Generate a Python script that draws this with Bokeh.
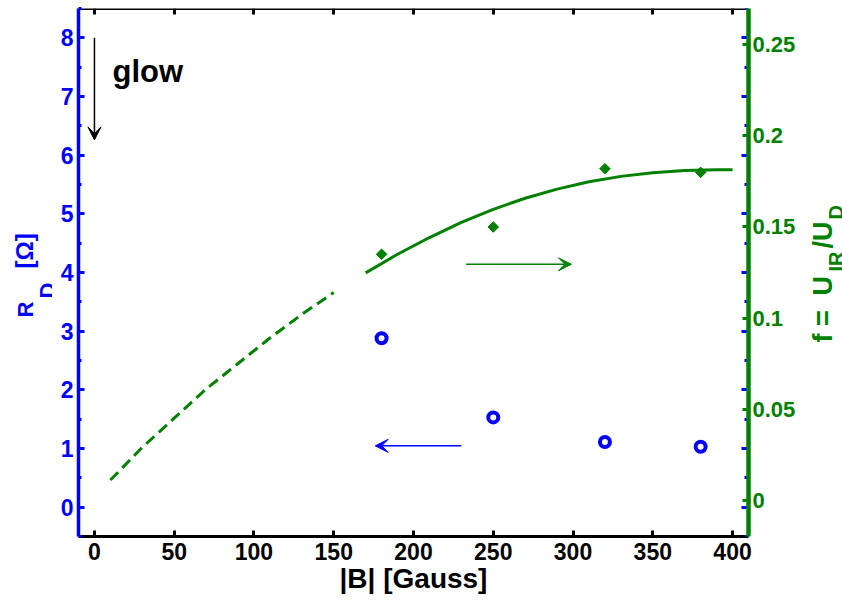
from math import pi

from bokeh.plotting import figure
from bokeh.layouts import row
from bokeh.models import (Range1d, LinearAxis, FixedTicker, CustomJSTickFormatter,
                          Arrow, VeeHead, Label)
from bokeh.embed import file_html
from bokeh.resources import INLINE

# ---------------- data ----------------
B_field = [180, 250, 320, 380]                 # |B| [Gauss]
R_D = [2.88, 1.53, 1.11, 1.03]                 # discharge resistance [Ohm]
f_ratio = [0.135, 0.150, 0.182, 0.180]         # f = U_IR / U_D

fit_B = [170, 190, 210, 230, 250, 270, 290, 310, 330, 350, 370, 390, 400]
fit_f = [0.1248, 0.1350, 0.1442, 0.1525, 0.1597, 0.1658, 0.1708, 0.1748,
         0.1778, 0.1798, 0.1810, 0.1815, 0.1814]

ext_B = [10, 30, 50, 70, 90, 110, 130, 150]
ext_f = [0.011, 0.029, 0.045, 0.061, 0.075, 0.089, 0.102, 0.114]

x_ticks = [0, 50, 100, 150, 200, 250, 300, 350, 400]
x_tick_labels = ["0", "50", "100", "150", "200", "250", "300", "350", "400"]
r_ticks = [0, 1, 2, 3, 4, 5, 6, 7, 8]
r_tick_labels = ["0", "1", "2", "3", "4", "5", "6", "7", "8"]
r_minor = [-0.5, 0.5, 1.5, 2.5, 3.5, 4.5, 5.5, 6.5, 7.5, 8.5]
f_ticks = [0, 0.05, 0.1, 0.15, 0.2, 0.25]
f_tick_labels = ["0", "0.05", "0.1", "0.15", "0.2", "0.25"]

# annotation anchors (data units)
glow_arrow = dict(x=0, y_start=8.0, y_end=6.26)
glow_text = dict(x=11.3, y=7.42)
green_arrow = dict(x_start=233, x_end=299, y=0.1295)
blue_arrow = dict(x_start=230, x_end=176, y=1.045)

BLUE = "#0000ff"
GREEN = "#008000"
FONT = "Liberation Sans"

X_MIN, X_MAX = -10, 410
R_MIN, R_MAX = -0.5, 8.5
F_MIN, F_MAX = -0.02, 0.27

H = 608
TOP, BOTTOM = 8, 72      # borders above / below the plotting frame
FH = H - TOP - BOTTOM
WL, WR = 52, 42          # side strips holding the rotated axis titles
WM = 842 - WL - WR

p = figure(width=WM, height=H, frame_width=670, frame_height=FH,
           x_range=Range1d(X_MIN, X_MAX), y_range=Range1d(R_MIN, R_MAX),
           output_backend="svg", toolbar_location=None,
           min_border_left=78 - WL, min_border_right=WM - (78 - WL) - 670,
           min_border_top=TOP, min_border_bottom=BOTTOM)
p.extra_y_ranges = {"f": Range1d(F_MIN, F_MAX)}
p.outline_line_color = None
p.xgrid.visible = False
p.ygrid.visible = False
p.background_fill_color = "white"
p.border_fill_color = "white"

empty_fmt = CustomJSTickFormatter(code="return ''")

# bottom axis
xa = p.xaxis[0]
xa.ticker = FixedTicker(ticks=x_ticks, minor_ticks=[])
xa.major_label_overrides = dict(zip(x_ticks, x_tick_labels))
xa.major_tick_in = 6
xa.major_tick_out = 0
xa.minor_tick_line_color = None
xa.axis_line_width = 3
xa.axis_line_color = "black"
xa.major_tick_line_color = "black"
xa.major_tick_line_width = 3
xa.major_label_text_font = FONT
xa.major_label_text_font_style = "bold"
xa.major_label_text_font_size = "23px"
xa.major_label_text_color = "black"
xa.major_label_standoff = 6
xa.axis_label = "|B| [Gauss]"
xa.axis_label_text_font = FONT
xa.axis_label_text_font_style = "bold"
xa.axis_label_text_font_size = "28px"
xa.axis_label_text_color = "black"
xa.axis_label_standoff = 0

# left axis (R_D)
ya = p.yaxis[0]
ya.ticker = FixedTicker(ticks=r_ticks, minor_ticks=r_minor)
ya.major_label_overrides = dict(zip(r_ticks, r_tick_labels))
ya.major_tick_in = 6
ya.major_tick_out = 0
ya.minor_tick_in = 3
ya.minor_tick_out = 0
ya.axis_line_width = 3.5
ya.axis_line_color = BLUE
ya.major_tick_line_color = BLUE
ya.major_tick_line_width = 3
ya.minor_tick_line_color = BLUE
ya.minor_tick_line_width = 3
ya.major_label_text_font = FONT
ya.major_label_text_font_style = "bold"
ya.major_label_text_font_size = "23px"
ya.major_label_text_color = BLUE
ya.major_label_standoff = 5

# top mirror axis
ta = LinearAxis(fixed_location=R_MAX, ticker=FixedTicker(ticks=x_ticks, minor_ticks=[]),
                formatter=empty_fmt, major_tick_in=6, major_tick_out=0,
                minor_tick_line_color=None, axis_line_width=3, axis_line_color="black",
                major_tick_line_color="black", major_tick_line_width=3)
p.add_layout(ta, "above")

# right mirror of the R_D ticks
mr = LinearAxis(fixed_location=X_MAX, ticker=FixedTicker(ticks=r_ticks, minor_ticks=r_minor),
                formatter=empty_fmt, major_tick_in=7, major_tick_out=0,
                minor_tick_in=4, minor_tick_out=0, axis_line_color=None,
                major_tick_line_color=BLUE, major_tick_line_width=3,
                minor_tick_line_color=BLUE, minor_tick_line_width=3)
p.add_layout(mr, "right")

# right axis (f)
ra = LinearAxis(y_range_name="f", ticker=FixedTicker(ticks=f_ticks, minor_ticks=[]))
ra.major_label_overrides = dict(zip(f_ticks, f_tick_labels))
ra.major_tick_in = 6
ra.major_tick_out = 0
ra.minor_tick_line_color = None
ra.axis_line_width = 4.5
ra.axis_line_color = GREEN
ra.major_tick_line_color = GREEN
ra.major_tick_line_width = 3
ra.major_label_text_font = FONT
ra.major_label_text_font_style = "bold"
ra.major_label_text_font_size = "22px"
ra.major_label_text_color = GREEN
ra.major_label_standoff = 4
p.add_layout(ra, "right")

# ---------------- glyphs ----------------
p.line(ext_B, ext_f, y_range_name="f", line_color=GREEN, line_width=3, line_dash="11 6")
p.line(fit_B, fit_f, y_range_name="f", line_color=GREEN, line_width=3)
p.scatter(B_field, f_ratio, y_range_name="f", marker="square", angle=pi / 4, size=7.5,
          fill_color=GREEN, line_color=GREEN, line_width=1)
p.scatter(B_field, R_D, marker="circle", size=10, fill_color=None,
          line_color=BLUE, line_width=4)

# ---------------- arrows ----------------
p.add_layout(Arrow(end=VeeHead(size=13, fill_color="black", line_color="black", line_width=1),
                   x_start=glow_arrow["x"], y_start=glow_arrow["y_start"],
                   x_end=glow_arrow["x"], y_end=glow_arrow["y_end"],
                   line_color="black", line_width=1.5))
p.add_layout(Arrow(end=VeeHead(size=13, fill_color=GREEN, line_color=GREEN, line_width=1),
                   x_start=green_arrow["x_start"], y_start=green_arrow["y"],
                   x_end=green_arrow["x_end"], y_end=green_arrow["y"],
                   y_range_name="f", line_color=GREEN, line_width=1.5))
p.add_layout(Arrow(end=VeeHead(size=13, fill_color=BLUE, line_color=BLUE, line_width=1),
                   x_start=blue_arrow["x_start"], y_start=blue_arrow["y"],
                   x_end=blue_arrow["x_end"], y_end=blue_arrow["y"],
                   line_color=BLUE, line_width=1.5))

# ---------------- texts ----------------
p.add_layout(Label(x=glow_text["x"], y=glow_text["y"], text="glow", text_font=FONT,
                   text_font_style="bold", text_font_size="31px", text_color="black",
                   text_align="left", text_baseline="alphabetic"))


def strip(width):
    # frame spans the same rows as the main frame; data units = page pixels
    s = figure(width=width, height=H, x_range=Range1d(0, width),
               y_range=Range1d(H - BOTTOM, TOP),
               x_axis_location=None, y_axis_location=None,
               output_backend="svg", toolbar_location=None,
               min_border_left=0, min_border_right=0,
               min_border_top=TOP, min_border_bottom=BOTTOM)
    s.outline_line_color = None
    s.grid.visible = False
    s.background_fill_color = "white"
    s.border_fill_color = "white"
    return s


def rot_label(x, y, text, size, color, font=FONT):
    return Label(x=x, y=y, text=text, angle=pi / 2,
                 text_font=font, text_font_style="bold", text_font_size=size,
                 text_color=color, text_align="left", text_baseline="alphabetic")


# left title  R_D [Ω]  (baseline x, start y in page pixels)
left = strip(WL)
for x, y, t, s in [(25, 317, "R", "22px"), (47, 298, "D", "22px"),
                   (24, 268, "[Ω]", "24px")]:
    left.add_layout(rot_label(x, y, t, s, BLUE))

# right title  f = U_IR / U_D
right = strip(WR)
for x, y, t, s in [(22, 342, "f =", "27px"), (22, 295, "U", "27px"),
                   (35, 271, "IR", "20px"), (22, 248, "/U", "27px"),
                   (35, 219, "D", "20px")]:
    right.add_layout(rot_label(x, y, t, s, GREEN))

layout = row(left, p, right, spacing=0)
open("out.html", "w").write(file_html(layout, INLINE))
